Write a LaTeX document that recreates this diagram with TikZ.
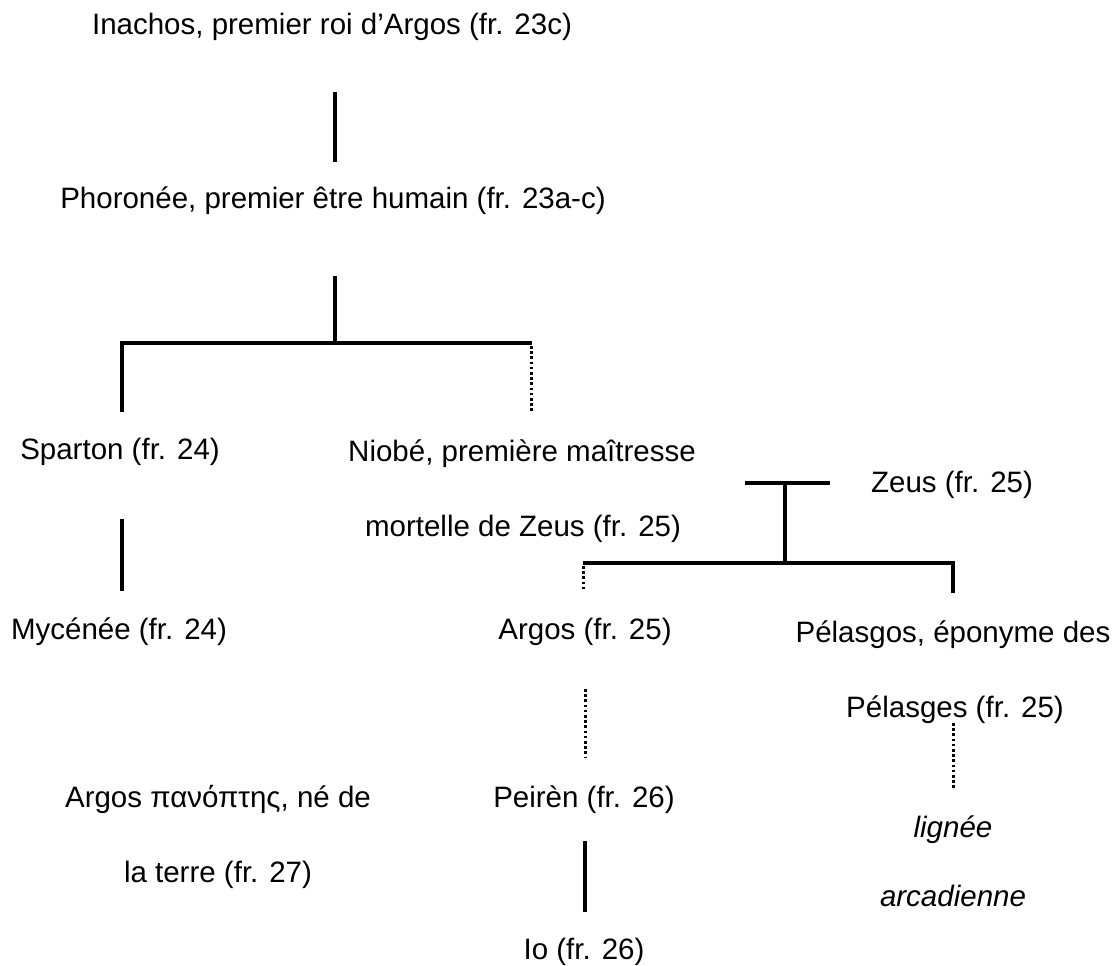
\documentclass[tikz,border=0pt]{standalone}
\usepackage{fontspec}
\setmainfont{Liberation Sans}
\begin{document}
\begin{tikzpicture}[x=1pt,y=-1pt,
  lbl/.style={inner sep=0pt, anchor=base, font=\fontsize{29.5}{35}\selectfont},
  ilbl/.style={lbl, font=\fontsize{29.5}{35}\selectfont\itshape},
  solidline/.style={line width=3.2pt, line cap=rect},
  dotline/.style={line width=3pt, dash pattern=on 2.6pt off 2.6pt}]
\useasboundingbox (0,0) rectangle (1117,966);
% texts (baseline = visual centre + 9)
\node[lbl] (inachos)   at (332,35)  {Inachos, premier roi d’Argos (fr. 23c)};
\node[lbl] (phoronee)  at (333,208) {Phoronée, premier être humain (fr. 23a-c)};
\node[lbl] (sparton)   at (120,459) {Sparton (fr. 24)};
\node[lbl] (niobe)     at (522,461) {Niobé, première maîtresse};
\node[lbl] (niobeb)    at (523,536) {mortelle de Zeus (fr. 25)};
\node[lbl] (zeus)      at (952,492) {Zeus (fr. 25)};
\node[lbl] (mycenee)   at (119,639) {Mycénée (fr. 24)};
\node[lbl] (argos)     at (585,639) {Argos (fr. 25)};
\node[lbl] (pelasgos)  at (953,642) {Pélasgos, éponyme des};
\node[lbl] (pelasges)  at (955,717) {Pélasges (fr. 25)};
\node[lbl] (panoptes)  at (218,807) {Argos πανόπτης, né de};
\node[lbl] (panoptesb) at (218,882) {la terre (fr. 27)};
\node[lbl] (peiren)    at (584,807) {Peirèn (fr. 26)};
\node[ilbl] (lignee)   at (953,837) {lignée};
\node[ilbl] (arcad)    at (953,906) {arcadienne};
\node[lbl] (io)        at (584,959) {Io (fr. 26)};
% junction coordinates
\coordinate (a1) at (335,94);  \coordinate (a2) at (335,160);
\coordinate (b1) at (335,278); \coordinate (b2) at (335,343);
\coordinate (bl) at (122,343); \coordinate (br) at (532,343);
\coordinate (bl2) at (122,412);
\coordinate (bd1) at (531,346); \coordinate (bd2) at (531,412);
\coordinate (c1) at (122,521); \coordinate (c2) at (122,589);
\coordinate (z1) at (745,483); \coordinate (z2) at (830,483);
\coordinate (z3) at (785,483); \coordinate (z4) at (785,563);
\coordinate (hl) at (583,563); \coordinate (hr) at (953,563);
\coordinate (hr2) at (953,593);
\coordinate (hd1) at (583,566); \coordinate (hd2) at (583,590);
\coordinate (p1) at (585,689); \coordinate (p2) at (585,757);
\coordinate (q1) at (585,843); \coordinate (q2) at (585,910);
\coordinate (r1) at (953,723); \coordinate (r2) at (953,790);
% connectors
\draw[solidline] (a1) -- (a2);
\draw[solidline] (b1) -- (b2);
\draw[solidline, line cap=butt] (bl2) -- (bl) -- (br);
\draw[dotline] (bd1) -- (bd2);
\draw[solidline] (c1) -- (c2);
\draw[solidline, line cap=butt] (z1) -- (z2);
\draw[solidline, line cap=butt] (z3) -- (z4);
\draw[solidline, line cap=butt] (hl) -- (hr) -- (hr2);
\draw[dotline] (hd1) -- (hd2);
\draw[dotline] (p1) -- (p2);
\draw[solidline] (q1) -- (q2);
\draw[dotline] (r1) -- (r2);
\end{tikzpicture}
\end{document}
